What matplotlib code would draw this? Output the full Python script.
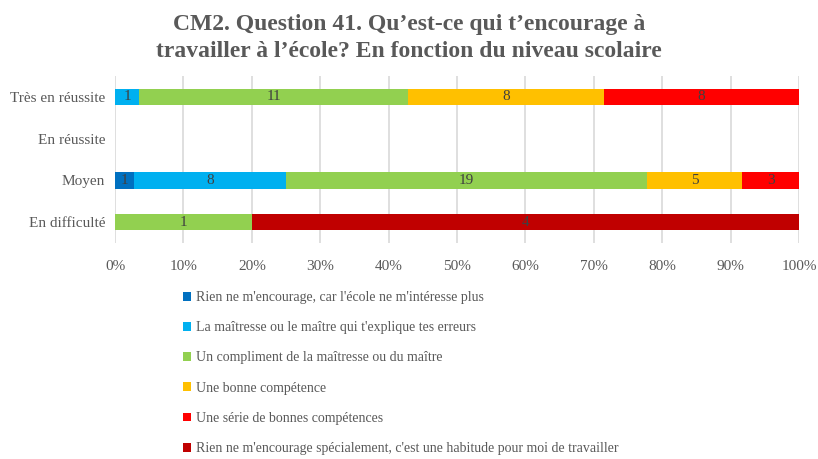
import matplotlib.pyplot as plt
import numpy as np

plt.rcParams['font.family'] = ['Liberation Serif', 'DejaVu Serif']

categories = ["En difficulté", "Moyen", "En réussite", "Très en réussite"]
series_names = [
    "Rien ne m'encourage, car l'école ne m'intéresse plus",
    "La maîtresse ou le maître qui t'explique tes erreurs",
    "Un compliment de la maîtresse ou du maître",
    "Une bonne compétence",
    "Une série de bonnes compétences",
    "Rien ne m'encourage spécialement, c'est une habitude pour moi de travailler",
]
colors = ["#0070c0", "#00b0f0", "#92d050", "#ffc000", "#ff0000", "#c00000"]

# counts per category (same order as categories)
counts = np.array([
    [0, 1, 0, 0],    # Rien ne m'encourage, car...
    [0, 8, 0, 1],    # La maîtresse ou le maître...
    [1, 19, 0, 11],  # Un compliment
    [0, 5, 0, 8],    # Une bonne compétence
    [0, 3, 0, 8],    # Une série de bonnes compétences
    [4, 0, 0, 0],    # habitude
], dtype=float)

totals = counts.sum(axis=0)
totals[totals == 0] = 1
pct = counts / totals

fig = plt.figure(figsize=(8.18, 4.59), dpi=100)
ax = fig.add_axes([0.1406, 0.4706, 0.8362, 0.3638])

y = np.arange(len(categories))
left = np.zeros(len(categories))
for i, name in enumerate(series_names):
    ax.barh(y, pct[i], left=left, height=0.39, color=colors[i],
            label=name, zorder=3)
    for j in range(len(categories)):
        if counts[i, j] > 0:
            ax.text(left[j] + pct[i, j] / 2, y[j], f"{int(counts[i, j])}",
                    ha='center', va='center', fontsize=11, color='#404040',
                    zorder=4)
    left += pct[i]

ax.set_xlim(0, 1)
ax.set_ylim(-0.5, 3.5)
ax.set_xticks(np.linspace(0, 1, 11))
ax.set_xticklabels([f"{int(v)}%" for v in np.linspace(0, 100, 11)])
ax.set_yticks(y)
ax.set_yticklabels(categories)
ax.tick_params(axis='both', length=0, labelsize=11, colors='#595959')
ax.tick_params(axis='x', pad=12)
ax.tick_params(axis='y', pad=7)
ax.grid(axis='x', color='#d9d9d9', linewidth=1.2, zorder=0)
for s in ax.spines.values():
    s.set_visible(False)

fig.text(0.5, 0.97, "CM2. Question 41. Qu’est-ce qui t’encourage à\ntravailler à l’école? En fonction du niveau scolaire",
         ha='center', va='top', fontsize=17, fontweight='bold', color='#595959',
         linespacing=1.38)

leg = fig.legend(loc='upper left', bbox_to_anchor=(0.217, 0.378), frameon=False,
                 handlelength=0.6, handleheight=0.6, handletextpad=0.35,
                 labelspacing=1.24, fontsize=10, borderaxespad=0)
for t in leg.get_texts():
    t.set_color('#595959')

fig.savefig("out.png", dpi=100)
